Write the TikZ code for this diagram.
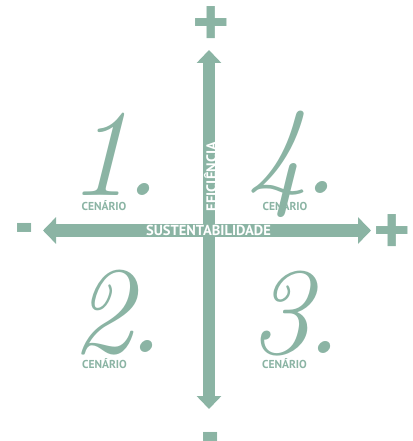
\documentclass[tikz,border=0pt]{standalone}
\usepackage{fontspec}
\newfontfamily\labelfont{PT Sans}
\usetikzlibrary{arrows.meta,positioning}

\definecolor{sage}{RGB}{139,180,164}

\tikzset{
  axis/.style={sage,line width=12pt,
    {Triangle[length=13pt,width=24pt]}-{Triangle[length=13pt,width=24pt]}},
  numeral/.style={sage,inner sep=0pt,anchor=base,
    font=\fontsize{124}{124}\selectfont\itshape},
  cenario/.style={sage,inner sep=0pt,anchor=base,
    font=\labelfont\bfseries\fontsize{11.5}{11.5}\selectfont},
  plussign/.style={sage,inner sep=0pt,anchor=north,
    font=\labelfont\bfseries\fontsize{71}{71}\selectfont},
  minussign/.style={sage,inner sep=0pt,anchor=north,yscale=1.4,
    font=\labelfont\bfseries\fontsize{56}{56}\selectfont},
  axislabel/.style={white,inner sep=0pt,
    font=\labelfont\bfseries\fontsize{14.5}{14.5}\selectfont}
}
\newcommand{\numdot}[1]{#1\kern-7pt.}

\begin{document}
\begin{tikzpicture}[x=1pt,y=-1pt]
    \useasboundingbox (0,0) rectangle (412,441);
    %% axes
    \coordinate (etop) at (209,50);
    \coordinate (ebot) at (209,409);
    \coordinate (sleft) at (43,230.5);
    \coordinate (sright) at (371,230.5);
    \draw[axis] (ebot) -- (etop);
    \draw[axis,line width=13pt,
        {Triangle[length=13pt,width=26pt]}-{Triangle[length=13pt,width=26pt]}]
        (sleft) -- (sright);
    \node[axislabel] (sust) at (208.5,230.5) {SUSTENTABILIDADE};
    \node[axislabel,rotate=90] (efic) at (210.5,176.5) {EFICIÊNCIA};
    %% signs
    \node[plussign] (eplus) at (211,6) {+};
    \node[minussign] (eminus) at (211,432) {-};
    \node[minussign] (sminus) at (25,223) {-};
    \node[plussign] (splus) at (392.5,214) {+};
    %% scenarios
    \node[numeral] (one) at (115,195) {\numdot{1}};
    \node[numeral] (four) at (293,193) {\numdot{4}};
    \node[numeral] (two) at (118,352) {\numdot{2}};
    \node[numeral] (three) at (296,353) {\numdot{3}};
    \node[cenario] (c1) at (104,210) {CENÁRIO};
    \node[cenario] (c4) at (285,210) {CENÁRIO};
    \node[cenario] (c2) at (104.5,368) {CENÁRIO};
    \node[cenario] (c3) at (284.5,368) {CENÁRIO};
\end{tikzpicture}
\end{document}
